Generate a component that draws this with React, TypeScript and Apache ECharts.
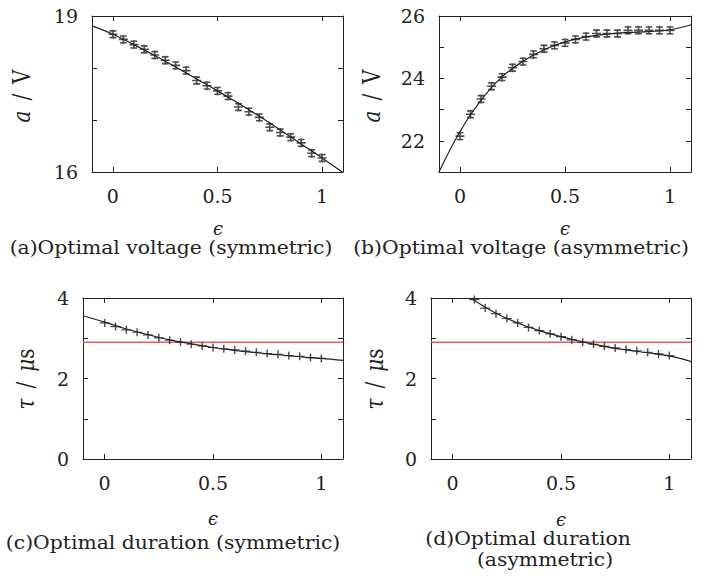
import React, { useEffect, useRef } from 'react';
import * as echarts from 'echarts';

const EPS = [0, 0.05, 0.1, 0.15, 0.2, 0.25, 0.3, 0.35, 0.4, 0.45, 0.5, 0.55, 0.6, 0.65, 0.7, 0.75, 0.8, 0.85, 0.9, 0.95, 1.0];
const EPS_D = [0.1, 0.15, 0.2, 0.25, 0.3, 0.35, 0.4, 0.45, 0.5, 0.55, 0.6, 0.65, 0.7, 0.75, 0.8, 0.85, 0.9, 0.95, 1.0];

const voltSym = [18.65, 18.55, 18.45, 18.36, 18.25, 18.15, 18.05, 17.95, 17.76, 17.66, 17.56, 17.46, 17.25, 17.16, 17.05, 16.86, 16.76, 16.67, 16.56, 16.36, 16.27];
const voltAsym = [22.15, 22.85, 23.34, 23.75, 24.04, 24.34, 24.54, 24.77, 24.95, 25.06, 25.14, 25.25, 25.34, 25.44, 25.44, 25.44, 25.54, 25.54, 25.54, 25.54, 25.54];
const durSym = [3.38, 3.29, 3.21, 3.15, 3.08, 3.01, 2.95, 2.9, 2.85, 2.81, 2.77, 2.74, 2.71, 2.68, 2.65, 2.62, 2.6, 2.57, 2.55, 2.52, 2.5];
const durAsym = [3.96, 3.75, 3.61, 3.49, 3.38, 3.27, 3.19, 3.11, 3.04, 2.96, 2.9, 2.85, 2.8, 2.76, 2.72, 2.69, 2.65, 2.61, 2.57];

const FIT_X = [-0.1, 0, 0.1, 0.2, 0.3, 0.4, 0.5, 0.6, 0.7, 0.8, 0.9, 1.0, 1.1];
const fitVoltSym = [18.81, 18.65, 18.45, 18.24, 18.02, 17.79, 17.56, 17.32, 17.07, 16.81, 16.54, 16.27, 15.99];
const fitVoltAsym = [21.0, 22.3, 23.3, 24.05, 24.55, 24.92, 25.17, 25.33, 25.42, 25.47, 25.5, 25.56, 25.72];
const fitDurSym = [3.56, 3.4, 3.23, 3.09, 2.96, 2.86, 2.77, 2.7, 2.64, 2.59, 2.54, 2.5, 2.45];
const FIT_X_D = [0.09, 0.1, 0.2, 0.3, 0.4, 0.5, 0.6, 0.7, 0.8, 0.9, 1.0, 1.1];
const fitDurAsym = [4.0, 3.94, 3.62, 3.38, 3.19, 3.04, 2.91, 2.8, 2.71, 2.64, 2.56, 2.42];

const THRESHOLD = 2.9;

const X_TICKS = [0, 0.5, 1];
const Y_A = { min: 16, max: 19, ticks: [16, 17, 18, 19], labels: [16, 19] };
const Y_B = { min: 21, max: 26, ticks: [21, 22, 23, 24, 25, 26], labels: [22, 24, 26] };
const Y_CD = { min: 0, max: 4, ticks: [0, 1, 2, 3, 4], labels: [0, 2, 4] };

const FONT = 'DejaVu Serif';
const INK = '#222';

const grids = [
  { left: 92, top: 16, width: 251, height: 156 },
  { left: 439, top: 16, width: 252, height: 156 },
  { left: 83, top: 298, width: 260, height: 161 },
  { left: 431, top: 298, width: 260, height: 161 },
];
const yDefs = [Y_A, Y_B, Y_CD, Y_CD];

const ERR_SYM = 'path://M0,-4L0,4M-4,0L4,0M-3,-3L3,-3M-3,3L3,3';
const PLUS_SYM = 'path://M0,-4L0,4M-4.5,0L4.5,0';

function buildOption() {
  const xAxis: any[] = [];
  const yAxis: any[] = [];
  grids.forEach((_, i) => {
    const base = {
      gridIndex: i,
      type: 'value',
      min: -0.1,
      max: 1.1,
      axisLine: { show: true, onZero: false, lineStyle: { color: INK, width: 1 } },
      axisTick: { show: true, inside: true, length: 5, customValues: X_TICKS, lineStyle: { color: INK } },
      splitLine: { show: false },
    };
    xAxis.push({
      ...base,
      position: 'bottom',
      axisLabel: { show: true, customValues: X_TICKS, margin: 14, fontFamily: FONT, fontSize: 19, color: INK, formatter: (v: number) => String(v) },
    });
    xAxis.push({ ...base, position: 'top', axisLabel: { show: false } });
    const yd = yDefs[i];
    const yb = {
      gridIndex: i,
      type: 'value',
      min: yd.min,
      max: yd.max,
      interval: 1,
      axisLine: { show: true, onZero: false, lineStyle: { color: INK, width: 1 } },
      axisTick: { show: true, inside: true, length: 5, customValues: yd.ticks, lineStyle: { color: INK } },
      splitLine: { show: false },
    };
    yAxis.push({
      ...yb,
      position: 'left',
      axisLabel: { show: true, customValues: yd.labels, margin: 14, fontFamily: FONT, fontSize: 19, color: INK },
    });
    yAxis.push({ ...yb, position: 'right', axisLabel: { show: false } });
  });

  const pts = (xs: number[], ys: number[]) => xs.map((x, k) => [x, ys[k]]);
  const lineSeries = (i: number, xs: number[], ys: number[]) => ({
    type: 'line',
    xAxisIndex: i * 2,
    yAxisIndex: i * 2,
    data: pts(xs, ys),
    smooth: 0.4,
    showSymbol: false,
    symbol: 'none',
    clip: true,
    lineStyle: { color: INK, width: 1.2 },
    z: 2,
  });
  const scatterSeries = (i: number, xs: number[], ys: number[], sym: string, size: number[], bw: number) => ({
    type: 'scatter',
    xAxisIndex: i * 2,
    yAxisIndex: i * 2,
    data: pts(xs, ys),
    symbol: sym,
    symbolSize: size,
    itemStyle: { color: 'rgba(0,0,0,0)', borderColor: INK, borderWidth: bw },
    z: 3,
  });
  const redLine = (i: number) => ({
    type: 'line',
    xAxisIndex: i * 2,
    yAxisIndex: i * 2,
    data: [[-0.1, THRESHOLD], [1.1, THRESHOLD]],
    showSymbol: false,
    symbol: 'none',
    lineStyle: { color: '#ef5b5b', width: 1.6 },
    z: 1,
  });

  const series = [
    lineSeries(0, FIT_X, fitVoltSym),
    scatterSeries(0, EPS, voltSym, ERR_SYM, [9, 9], 1.6),
    lineSeries(1, FIT_X, fitVoltAsym),
    scatterSeries(1, EPS, voltAsym, ERR_SYM, [9, 9], 1.6),
    redLine(2),
    lineSeries(2, FIT_X, fitDurSym),
    scatterSeries(2, EPS, durSym, PLUS_SYM, [10, 8], 1.3),
    redLine(3),
    lineSeries(3, FIT_X_D, fitDurAsym),
    scatterSeries(3, EPS_D, durAsym, PLUS_SYM, [10, 8], 1.3),
  ];

  const txt = (text: string, x: number, y: number, size: number, extra: any = {}, sx = 1) => ({
    type: 'text',
    x,
    y,
    scaleX: sx,
    silent: true,
    style: {
      text,
      fontFamily: FONT,
      fontSize: size,
      fill: INK,
      textAlign: 'center',
      textVerticalAlign: 'middle',
      ...extra,
    },
  });
  const richY = (text: string, x: number, y: number) => ({
    type: 'text',
    x,
    y,
    rotation: Math.PI / 2,
    scaleY: 1.2,
    silent: true,
    style: {
      text,
      fontFamily: FONT,
      fontSize: 20,
      fill: INK,
      textAlign: 'center',
      textVerticalAlign: 'middle',
      rich: {
        i: { fontFamily: FONT, fontSize: 20, fontStyle: 'italic', fill: INK },
        n: { fontFamily: FONT, fontSize: 20, fill: INK },
      },
    },
  });

  const SP = '\u2002';
  const capScale = 1.13;
  const graphic = [
    richY(`{i|a}{n|${SP}/${SP}V}`, 21, 96),
    richY(`{i|a}{n|${SP}/${SP}V}`, 371, 96),
    richY(`{i|τ}{n|${SP}/${SP}}{i|μ}{n|s}`, 25, 379),
    richY(`{i|τ}{n|${SP}/${SP}}{i|μ}{n|s}`, 374, 379),
    txt('ϵ', 218, 228, 18, { fontStyle: 'italic' }),
    txt('ϵ', 565, 228, 18, { fontStyle: 'italic' }),
    txt('ϵ', 213, 518, 18, { fontStyle: 'italic' }),
    txt('ϵ', 561, 519, 18, { fontStyle: 'italic' }),
    txt('(a)Optimal voltage (symmetric)', 171, 248, 18, {}, capScale),
    txt('(b)Optimal voltage (asymmetric)', 521, 248, 18, {}, capScale),
    txt('(c)Optimal duration (symmetric)', 173, 543, 18, {}, capScale),
    txt('(d)Optimal duration', 528, 539, 18, {}, capScale),
    txt('(asymmetric)', 545, 560, 18, {}, capScale),
  ];

  return {
    animation: false,
    backgroundColor: '#ffffff',
    grid: grids.map((g) => ({ ...g, containLabel: false })),
    xAxis,
    yAxis,
    series,
    graphic,
  };
}

export default function App() {
  const ref = useRef<HTMLDivElement>(null);
  useEffect(() => {
    const chart = echarts.init(ref.current!, null, { renderer: 'svg' });
    chart.setOption(buildOption() as any);
    return () => chart.dispose();
  }, []);
  return (
    <div
      ref={ref}
      style={{ position: 'absolute', left: 0, top: 0, width: 704, height: 584 }}
    />
  );
}
